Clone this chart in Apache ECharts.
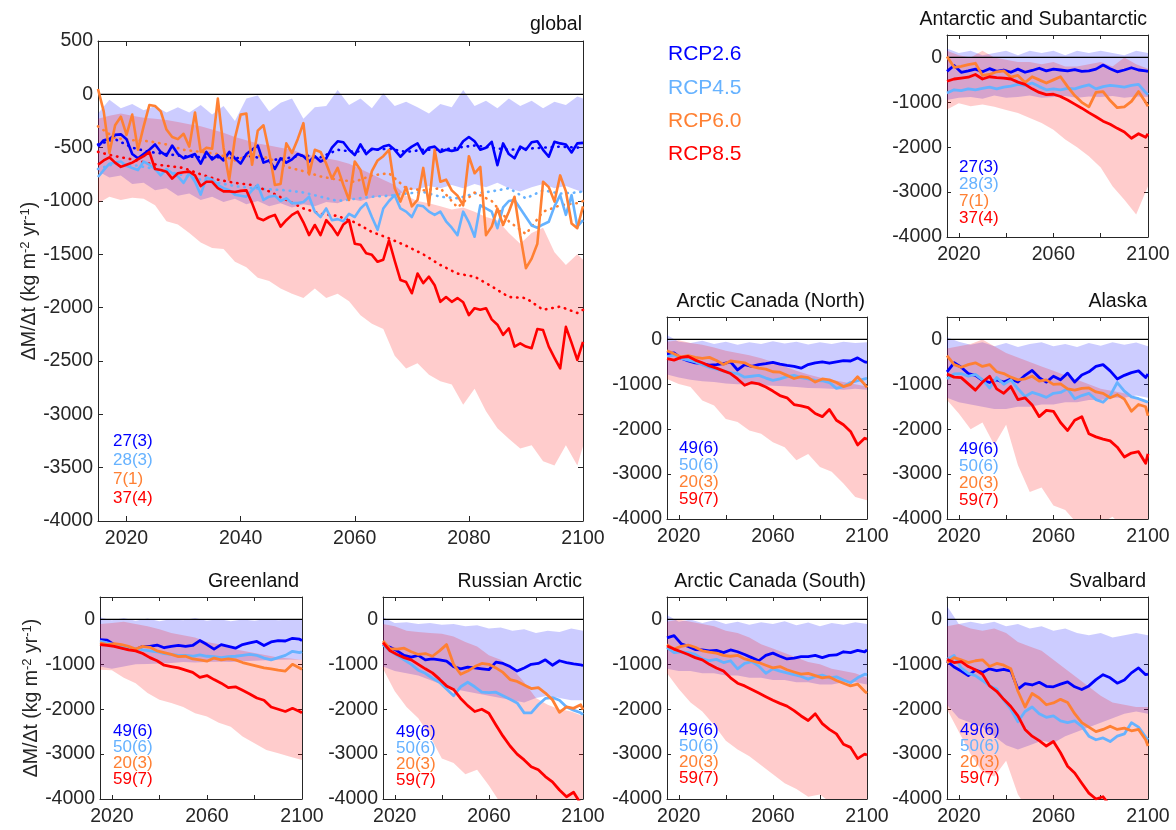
<!DOCTYPE html>
<html><head><meta charset="utf-8">
<script src="https://cdn.jsdelivr.net/npm/echarts@6/dist/echarts.min.js"></script>
<style>html,body{margin:0;padding:0;background:#fff}#c{width:1176px;height:830px}</style>
</head><body><div id="c"></div>
<script>
// ---------------- DATA ----------------
const globalYears = [2015,2016,2017,2018,2019,2020,2021,2022,2023,2024,2025,2026,2027,2028,2029,2030,2031,2032,2033,2034,2035,2036,2037,2038,2039,2040,2041,2042,2043,2044,2045,2046,2047,2048,2049,2050,2051,2052,2053,2054,2055,2056,2057,2058,2059,2060,2061,2062,2063,2064,2065,2066,2067,2068,2069,2070,2071,2072,2073,2074,2075,2076,2077,2078,2079,2080,2081,2082,2083,2084,2085,2086,2087,2088,2089,2090,2091,2092,2093,2094,2095,2096,2097,2098,2099,2100];
const globalBandYears = [2015,2017,2019,2021,2023,2025,2027,2029,2031,2033,2035,2037,2039,2041,2043,2045,2047,2049,2051,2053,2055,2057,2059,2061,2063,2065,2067,2069,2071,2073,2075,2077,2079,2081,2083,2085,2087,2089,2091,2093,2095,2097,2099,2100];
const lineYears = [2015,2018,2021,2024,2027,2030,2033,2036,2039,2042,2045,2048,2051,2054,2057,2060,2063,2066,2069,2072,2075,2078,2081,2084,2087,2090,2093,2096,2099,2100];
const bandYears = [2015,2020,2025,2030,2035,2040,2045,2050,2055,2060,2065,2070,2075,2080,2085,2090,2095,2100];

const scenarios = ['RCP2.6','RCP4.5','RCP6.0','RCP8.5'];
const countsGlobal = ['27(3)','28(3)','7(1)','37(4)'];
const countsRegion = ['49(6)','50(6)','20(3)','59(7)'];
const panelTitles = ['global','Antarctic and Subantarctic','Arctic Canada (North)','Alaska','Greenland','Russian Arctic','Arctic Canada (South)','Svalbard'];
const xTickValues = [2020,2040,2060,2080,2100];
const xLabelGlobal = [2020,2040,2060,2080,2100];
const xLabelRegion = [2020,2060,2100];
const yLabelRegion = [-4000,-3000,-2000,-1000,0];

// global
const g26 = [-490,-430,-420,-380,-375,-420,-560,-600,-560,-520,-470,-540,-575,-480,-560,-600,-580,-560,-650,-540,-610,-570,-620,-540,-600,-650,-560,-520,-480,-640,-620,-700,-600,-640,-610,-560,-580,-630,-580,-630,-600,-500,-440,-450,-520,-570,-470,-560,-510,-520,-490,-475,-520,-585,-530,-490,-460,-555,-500,-490,-540,-520,-530,-520,-440,-400,-440,-520,-500,-445,-665,-460,-560,-600,-490,-520,-450,-440,-520,-585,-445,-460,-470,-545,-460,-455];
const g45 = [-775,-710,-650,-640,-630,-670,-690,-710,-630,-660,-700,-760,-700,-740,-770,-830,-740,-820,-940,-780,-800,-850,-880,-900,-940,-950,-960,-900,-850,-990,-960,-950,-1000,-975,-1020,-1020,-1010,-960,-1100,-1150,-1070,-1180,-1170,-1190,-1120,-1150,-1070,-1020,-1150,-1270,-1070,-1000,-945,-1070,-1100,-1150,-1040,-1050,-1100,-1130,-1100,-1190,-1250,-1320,-1100,-1200,-1335,-1040,-1070,-1100,-1255,-1060,-1000,-990,-1070,-1150,-1230,-1250,-1220,-1195,-1050,-945,-1130,-945,-1240,-1180];
const g60 = [50,-160,-550,-290,-210,-380,-190,-520,-300,-100,-110,-160,-330,-400,-420,-370,-490,-170,-540,-500,-510,-40,-500,-800,-410,-190,-180,-660,-340,-290,-540,-850,-840,-460,-550,-420,-270,-750,-520,-540,-650,-790,-690,-850,-990,-630,-710,-940,-720,-620,-580,-520,-880,-1005,-870,-1050,-990,-690,-1040,-520,-820,-800,-900,-950,-1040,-580,-740,-680,-1320,-1240,-1070,-1225,-1100,-960,-1320,-1630,-1540,-1400,-820,-870,-1005,-760,-910,-1210,-1255,-1050];
const g85 = [-660,-620,-590,-640,-680,-660,-640,-610,-580,-540,-700,-710,-725,-790,-740,-730,-725,-760,-860,-820,-820,-880,-910,-910,-915,-905,-900,-1020,-1160,-1180,-1150,-1130,-1240,-1180,-1130,-1100,-1200,-1320,-1225,-1320,-1180,-1240,-1320,-1220,-1180,-1400,-1410,-1490,-1505,-1570,-1550,-1370,-1560,-1740,-1760,-1865,-1680,-1770,-1710,-1790,-1945,-1900,-1945,-1910,-1950,-2070,-2005,-2020,-2005,-2110,-2160,-2255,-2195,-2365,-2335,-2365,-2380,-2200,-2210,-2365,-2470,-2570,-2180,-2330,-2490,-2320];
const gDot26 = [-470,-420,-500,-540,-560,-580,-590,-590,-600,-580,-620,-600,-570,-590,-520,-540,-520,-510,-540,-520,-520,-500,-480,-500,-520,-510,-500,-490,-500,-490];
const gDot45 = [-700,-650,-660,-690,-720,-760,-800,-830,-860,-880,-890,-900,-920,-960,-1000,-980,-960,-950,-930,-915,-960,-975,-930,-910,-880,-975,-900,-930,-920,-910];
const gDot60 = [-300,-410,-430,-440,-470,-520,-540,-560,-620,-560,-600,-680,-720,-770,-800,-820,-760,-740,-880,-900,-880,-1060,-920,-1000,-1190,-1310,-1100,-1040,-1020,-1000];
const gDot85 = [-540,-580,-610,-650,-670,-690,-750,-800,-830,-850,-910,-990,-1070,-1120,-1140,-1200,-1290,-1350,-1420,-1500,-1600,-1680,-1710,-1800,-1900,-1910,-2020,-1990,-2050,-2020];
const gB26hi = [-180,-50,-130,-90,-150,-110,-170,-120,-170,-100,-190,-110,-250,-40,-10,-160,-80,-40,-230,-120,-110,40,-100,-40,-130,10,-110,-70,-120,-180,-90,-120,40,-110,-60,-130,-40,-110,-60,-130,-70,-100,-20,-40];
const gB26lo = [-720,-780,-760,-840,-830,-900,-880,-950,-930,-990,-960,-1010,-980,-1030,-1000,-1050,-1020,-1060,-1030,-1050,-1010,-1020,-980,-1000,-970,-950,-960,-900,-890,-860,-880,-850,-880,-840,-870,-830,-880,-910,-870,-840,-880,-860,-900,-920];
const gB85hi = [-230,-200,-180,-200,-220,-230,-240,-260,-280,-300,-330,-360,-400,-430,-460,-480,-500,-520,-560,-580,-600,-620,-650,-700,-750,-800,-850,-950,-1000,-1020,-1050,-1080,-1060,-1100,-1150,-1180,-1300,-1400,-1300,-1250,-1480,-1600,-1500,-1550];
const gB85lo = [-1020,-960,-990,-970,-980,-1040,-1190,-1220,-1300,-1390,-1440,-1450,-1570,-1620,-1720,-1750,-1820,-1870,-1910,-1820,-1910,-1870,-1940,-2070,-2150,-2200,-2450,-2570,-2520,-2630,-2690,-2720,-2910,-2760,-2970,-3130,-3230,-3320,-3290,-3440,-3480,-3290,-3480,-3300];

// Antarctic and Subantarctic
const ant26 = [-310,-180,-330,-300,-260,-320,-250,-310,-280,-330,-260,-330,-290,-240,-300,-260,-280,-300,-270,-310,-300,-260,-170,-250,-320,-280,-230,-280,-300,-310];
const ant45 = [-790,-720,-740,-700,-720,-690,-660,-700,-660,-640,-600,-620,-570,-650,-720,-700,-720,-690,-700,-650,-610,-700,-650,-620,-640,-660,-620,-600,-780,-830];
const ant60 = [20,-220,-200,-160,-130,-400,-380,-320,-300,-440,-400,-560,-430,-500,-570,-500,-430,-650,-850,-1000,-1100,-780,-760,-960,-1120,-1100,-980,-760,-1000,-1090];
const ant85 = [-530,-480,-460,-440,-380,-480,-430,-450,-460,-480,-550,-600,-700,-780,-830,-820,-870,-950,-1040,-1130,-1230,-1320,-1420,-1490,-1580,-1660,-1800,-1700,-1780,-1700];
const antB26hi = [200,100,150,50,100,150,50,150,100,150,50,150,100,150,100,50,150,100];
const antB26lo = [-950,-900,-880,-920,-850,-900,-880,-850,-900,-880,-860,-900,-870,-880,-860,-900,-870,-880];
const antB85hi = [150,50,0,150,0,-50,-100,-100,-150,-100,-200,-200,-150,-100,-200,0,-150,-250];
const antB85lo = [-1160,-1020,-1090,-1050,-1100,-1170,-1240,-1350,-1460,-1610,-1830,-2000,-2200,-2450,-2870,-3170,-3500,-2870];

// Arctic Canada (North)
const acn26 = [-320,-300,-420,-480,-520,-540,-570,-560,-540,-500,-680,-560,-600,-560,-540,-510,-550,-580,-600,-640,-560,-520,-500,-530,-500,-470,-480,-410,-500,-510];
const acn45 = [-380,-350,-420,-460,-500,-560,-620,-660,-700,-740,-760,-840,-820,-800,-860,-910,-880,-830,-800,-850,-880,-910,-920,-960,-1090,-1050,-960,-920,-880,-870];
const acn60 = [-250,-320,-390,-360,-400,-420,-400,-470,-560,-480,-500,-520,-600,-640,-660,-720,-730,-800,-870,-830,-850,-950,-880,-900,-960,-1050,-1000,-830,-1000,-1070];
const acn85 = [-430,-460,-400,-380,-460,-520,-590,-640,-700,-760,-880,-1020,-960,-990,-1060,-1150,-1250,-1300,-1450,-1480,-1520,-1650,-1720,-1560,-1800,-1900,-2050,-2350,-2200,-2220];
const acnB26hi = [100,-50,-80,-30,-100,-50,-120,-60,-100,-40,-90,-50,-110,-60,-100,-50,-80,-60];
const acnB26lo = [-780,-850,-900,-930,-950,-980,-1000,-1000,-1020,-1030,-1040,-1060,-1080,-1090,-1100,-1120,-1100,-1120];
const acnB85hi = [-50,-20,-80,-120,-180,-250,-300,-350,-420,-500,-600,-700,-780,-850,-900,-950,-1000,-1050];
const acnB85lo = [-880,-990,-1060,-1360,-1470,-1770,-1840,-2030,-2100,-2290,-2400,-2690,-2550,-2840,-2950,-3210,-3510,-3580];

// Alaska
const ala26 = [-720,-520,-620,-760,-800,-910,-960,-900,-950,-880,-950,-800,-690,-850,-950,-820,-900,-750,-950,-790,-720,-600,-560,-700,-880,-800,-740,-700,-850,-770];
const ala45 = [-880,-770,-760,-820,-780,-900,-1080,-850,-1000,-900,-1100,-1270,-1180,-1230,-1290,-1200,-1180,-1100,-1320,-1250,-1200,-1340,-1400,-1250,-960,-1150,-1280,-1320,-1380,-1400];
const ala60 = [-360,-560,-620,-560,-520,-600,-560,-720,-760,-840,-900,-880,-820,-930,-900,-1000,-990,-1100,-1130,-1090,-1080,-1170,-1200,-1300,-1230,-1330,-1600,-1450,-1500,-1700];
const ala85 = [-770,-840,-850,-990,-1130,-950,-820,-1100,-1200,-1050,-1340,-1300,-1460,-1720,-1580,-1600,-1850,-2030,-1800,-1720,-2100,-2170,-2220,-2260,-2400,-2620,-2530,-2500,-2760,-2550];
const alaB26hi = [50,-50,-120,-60,-150,-80,-170,-100,-60,-150,-100,-170,-80,-140,-60,-120,-70,-150];
const alaB26lo = [-1300,-1400,-1450,-1500,-1550,-1550,-1500,-1500,-1450,-1450,-1400,-1400,-1350,-1350,-1300,-1300,-1250,-1300];
const alaB85hi = [-200,-150,-100,0,-150,-300,-400,-500,-600,-700,-800,-900,-1000,-1100,-1150,-1200,-1300,-1400];
const alaB85lo = [-1350,-1650,-2000,-1850,-2350,-1900,-2800,-3400,-3300,-3700,-3800,-4100,-4200,-4100,-3950,-4200,-4300,-4300];

// Greenland
const grl26 = [-450,-460,-560,-630,-660,-670,-600,-600,-570,-630,-600,-580,-600,-580,-470,-560,-660,-560,-600,-640,-560,-520,-490,-580,-500,-470,-480,-420,-440,-470];
const grl45 = [-480,-520,-560,-600,-620,-650,-680,-700,-720,-760,-780,-800,-800,-820,-790,-820,-830,-850,-830,-820,-800,-780,-800,-860,-900,-850,-800,-710,-740,-720];
const grl60 = [-520,-560,-540,-560,-600,-660,-600,-620,-700,-740,-780,-830,-820,-880,-900,-930,-860,-900,-880,-900,-960,-1000,-1040,-1080,-1100,-1130,-1150,-1000,-1080,-1110];
const grl85 = [-560,-580,-600,-640,-680,-700,-760,-850,-920,-1020,-1050,-1080,-1130,-1180,-1290,-1250,-1340,-1420,-1520,-1500,-1580,-1660,-1750,-1800,-1950,-2000,-2050,-1980,-2050,-2080];
const grlB26hi = [50,-20,30,-30,20,-40,10,-20,30,-30,10,-40,0,-30,10,-20,0,-10];
const grlB26lo = [-1050,-1100,-1050,-1000,-990,-980,-970,-950,-960,-950,-940,-950,-930,-920,-910,-900,-890,-900];
const grlB85hi = [-100,-80,-50,-100,-150,-220,-300,-350,-400,-500,-550,-650,-700,-750,-800,-850,-870,-900];
const grlB85lo = [-1120,-1130,-1300,-1420,-1640,-1790,-1860,-1950,-2090,-2160,-2300,-2390,-2610,-2760,-2910,-2980,-3060,-3130];

// Russian Arctic
const rus26 = [-560,-620,-700,-800,-840,-800,-900,-880,-900,-930,-1050,-1100,-1060,-1080,-1100,-1120,-950,-980,-1050,-1150,-1080,-1000,-980,-900,-1020,-920,-960,-990,-1010,-1030];
const rus45 = [-560,-700,-800,-900,-1000,-1130,-1200,-1310,-1400,-1550,-1700,-1500,-1400,-1500,-1620,-1630,-1620,-1700,-1780,-1860,-2080,-2080,-1900,-1760,-1740,-1800,-1950,-2020,-2080,-2120];
const rus60 = [-480,-650,-660,-640,-720,-780,-760,-820,-700,-560,-1000,-1220,-1150,-1050,-980,-1000,-1080,-1180,-1340,-1380,-1460,-1540,-1520,-1640,-1790,-2070,-1950,-1980,-1900,-2010];
const rus85 = [-520,-700,-780,-850,-900,-1000,-1100,-1190,-1330,-1480,-1560,-1760,-1920,-2050,-2000,-2090,-2350,-2600,-2820,-3000,-3130,-3280,-3350,-3500,-3620,-3800,-3950,-3850,-4100,-4150];
const rusB26hi = [50,-80,-60,-100,-80,-120,-100,-150,-130,-200,-180,-250,-220,-300,-250,-280,-200,-250];
const rusB26lo = [-1050,-1150,-1200,-1250,-1350,-1450,-1550,-1600,-1650,-1700,-1750,-1800,-1850,-1750,-1700,-1750,-1800,-1800];
const rusB85hi = [-100,-150,-250,-280,-300,-320,-380,-500,-600,-800,-900,-1100,-1400,-1750,-1900,-2000,-2050,-2150];
const rusB85lo = [-1100,-1600,-1950,-2200,-2600,-3100,-3200,-3450,-3350,-3700,-4100,-4300,-4400,-4500,-4600,-4700,-4800,-4900];

// Arctic Canada (South)
const acs26 = [-410,-360,-540,-600,-670,-680,-700,-690,-740,-680,-720,-780,-850,-920,-800,-750,-820,-880,-860,-830,-830,-800,-850,-800,-790,-720,-740,-690,-720,-680];
const acs45 = [-630,-740,-720,-740,-780,-880,-920,-890,-960,-920,-1100,-980,-940,-1040,-1200,-1100,-1150,-1190,-1230,-1270,-1330,-1270,-1240,-1300,-1280,-1350,-1410,-1300,-1220,-1230];
const acs60 = [-560,-660,-600,-570,-620,-700,-730,-750,-800,-820,-800,-880,-920,-960,-1020,-1080,-1050,-1120,-1170,-1220,-1200,-1250,-1300,-1280,-1360,-1420,-1480,-1440,-1600,-1640];
const acs85 = [-590,-660,-720,-780,-850,-900,-1000,-1080,-1150,-1300,-1420,-1480,-1560,-1640,-1720,-1800,-1870,-1930,-2030,-2150,-2250,-2100,-2320,-2450,-2550,-2780,-2850,-3100,-3000,-3020];
const acsB26hi = [100,-50,0,-80,-20,-100,-50,-120,-60,-100,-40,-130,-70,-150,-80,-120,-60,-100];
const acsB26lo = [-1100,-1150,-1150,-1200,-1200,-1250,-1250,-1300,-1300,-1350,-1350,-1400,-1400,-1450,-1450,-1400,-1400,-1450];
const acsB85hi = [-50,0,-50,-100,-150,-250,-300,-400,-550,-650,-750,-850,-950,-1000,-1100,-1150,-1200,-1300];
const acsB85lo = [-1200,-1550,-1850,-2050,-2350,-2700,-2900,-3050,-3250,-3450,-3650,-3780,-3950,-3900,-4100,-4200,-4300,-4400];

// Svalbard
const sva26 = [-930,-1060,-1150,-1250,-1130,-1180,-1100,-1140,-1110,-1150,-1550,-1430,-1460,-1400,-1490,-1500,-1440,-1390,-1500,-1560,-1480,-1340,-1230,-1300,-1420,-1350,-1190,-1080,-1230,-1220];
const sva45 = [-890,-800,-1080,-1200,-1250,-1360,-1480,-1550,-1800,-2000,-2280,-2050,-1950,-2100,-2180,-2150,-2260,-2300,-2260,-2380,-2600,-2680,-2640,-2720,-2600,-2550,-2300,-2400,-2620,-2680];
const sva60 = [-970,-850,-900,-960,-920,-900,-1050,-980,-1020,-1100,-1600,-1950,-1650,-1750,-1900,-1860,-1780,-1850,-2100,-2300,-2400,-2500,-2450,-2380,-2450,-2420,-2480,-2450,-2680,-2820];
const sva85 = [-890,-960,-940,-1050,-1120,-1220,-1480,-1600,-1780,-1940,-2150,-2450,-2600,-2700,-2820,-2720,-2970,-3270,-3420,-3650,-3870,-4000,-3950,-4150,-4250,-4350,-4450,-4500,-4600,-4650];
const svaB26hi = [300,-100,-50,-100,-50,-150,-100,-200,-150,-250,-200,-300,-350,-300,-400,-350,-300,-350];
const svaB26lo = [-1900,-2200,-2300,-2400,-2600,-2800,-2900,-2800,-2700,-2750,-2600,-2500,-2400,-2300,-2200,-2100,-2050,-2100];
const svaB85hi = [-150,-100,-200,-250,-200,-300,-500,-600,-700,-900,-1100,-1300,-1500,-1700,-1850,-1900,-1950,-1950];
const svaB85lo = [-2000,-2500,-3000,-3400,-3500,-3150,-3900,-4300,-4400,-4500,-4500,-4500,-4500,-4500,-4500,-4500,-4500,-4500];

// ---------------- LAYOUT / STYLE ----------------
const FF = '"Liberation Sans", Arial, Helvetica, sans-serif';
const AX = '#262626';
const COL = ['#0000ff', '#66b2ff', '#ff8033', '#ff0000'];
const BAND_COL = ['rgba(0,0,255,0.2)', 'rgba(255,0,0,0.2)'];

const panels = [
  {box:[98,41,485,480], big:true, years:globalYears, lines:[g26,g45,g60,g85], dotYears:lineYears, dots:[gDot26,gDot45,gDot60,gDot85], bYears:globalBandYears, bands:[[gB26lo,gB26hi],[gB85lo,gB85hi]], counts:countsGlobal, cx:113, cy:441, cdy:19, tx:582, ty:25, ylabel:true, nameGap:48},
  {box:[947,35,201,202], years:lineYears, lines:[ant26,ant45,ant60,ant85], bYears:bandYears, bands:[[antB26lo,antB26hi],[antB85lo,antB85hi]], counts:countsGlobal, cx:959, cy:167, cdy:17.2, tx:1147, ty:20},
  {box:[667,317,200,202], years:lineYears, lines:[acn26,acn45,acn60,acn85], bYears:bandYears, bands:[[acnB26lo,acnB26hi],[acnB85lo,acnB85hi]], counts:countsRegion, cx:679, cy:448, cdy:17, tx:865, ty:302},
  {box:[947,317,201,202], years:lineYears, lines:[ala26,ala45,ala60,ala85], bYears:bandYears, bands:[[alaB26lo,alaB26hi],[alaB85lo,alaB85hi]], counts:countsRegion, cx:959, cy:449, cdy:17, tx:1147, ty:302},
  {box:[100,597,202,202], years:lineYears, lines:[grl26,grl45,grl60,grl85], bYears:bandYears, bands:[[grlB26lo,grlB26hi],[grlB85lo,grlB85hi]], counts:countsRegion, cx:113, cy:731, cdy:16, tx:299, ty:582, ylabel:true, nameGap:52},
  {box:[383,597,200,202], years:lineYears, lines:[rus26,rus45,rus60,rus85], bYears:bandYears, bands:[[rusB26lo,rusB26hi],[rusB85lo,rusB85hi]], counts:countsRegion, cx:396, cy:732, cdy:16, tx:582, ty:582},
  {box:[667,597,200,202], years:lineYears, lines:[acs26,acs45,acs60,acs85], bYears:bandYears, bands:[[acsB26lo,acsB26hi],[acsB85lo,acsB85hi]], counts:countsRegion, cx:679, cy:730, cdy:16, tx:866, ty:582},
  {box:[947,597,201,202], years:lineYears, lines:[sva26,sva45,sva60,sva85], bYears:bandYears, bands:[[svaB26lo,svaB26hi],[svaB85lo,svaB85hi]], counts:countsRegion, cx:960, cy:730, cdy:16, tx:1146, ty:582}
];

const grids = [], xAxes = [], yAxes = [], series = [], graphics = [];
const pair = (xs, vs) => xs.map((x, k) => [x, vs[k]]);
const plain = v => String(v);

function bandSeries(xi, yi, xs, lo, hi, color) {
  return {
    type:'custom', coordinateSystem:'cartesian2d', xAxisIndex:xi, yAxisIndex:yi, silent:true, z:1, clip:true,
    data: xs.map((x, k) => [x, lo[k], hi[k]]),
    encode:{x:0, y:[1, 2]},
    renderItem: function (params, api) {
      if (params.dataIndex !== 0) return null;
      const pts = [];
      for (let k = 0; k < xs.length; k++) pts.push(api.coord([xs[k], hi[k]]));
      for (let k = xs.length - 1; k >= 0; k--) pts.push(api.coord([xs[k], lo[k]]));
      const cs = params.coordSys;
      return {type:'polygon', shape:{points:pts}, style:{fill:color, stroke:null}, silent:true,
        clipPath:{type:'rect', shape:{x:cs.x, y:cs.y, width:cs.width, height:cs.height}}};
    }
  };
}

panels.forEach((p, i) => {
  const big = !!p.big;
  const tickLen = big ? 5 : 4;
  grids.push({left:p.box[0], top:p.box[1], width:p.box[2], height:p.box[3], containLabel:false});
  const xi = xAxes.length, yi = yAxes.length;
  const xBase = {type:'value', gridIndex:i, min:2015, max:2100, splitLine:{show:false},
    axisLine:{show:true, onZero:false, lineStyle:{color:AX, width:1}},
    axisTick:{show:true, inside:true, length:tickLen, customValues:xTickValues, lineStyle:{color:AX, width:1}}};
  xAxes.push(Object.assign({}, xBase, {position:'bottom',
    axisLabel:{show:true, customValues: big ? xLabelGlobal : xLabelRegion, formatter:plain, color:AX, fontSize:19.5, fontFamily:FF, margin:8}}));
  xAxes.push(Object.assign({}, xBase, {position:'top', axisLabel:{show:false}}));
  const yBase = {type:'value', gridIndex:i, min:-4000, max:500, splitLine:{show:false},
    axisLine:{show:true, onZero:false, lineStyle:{color:AX, width:1}}};
  const yTick = big ? {show:true, inside:true, length:tickLen, lineStyle:{color:AX}}
                    : {show:true, inside:true, length:tickLen, customValues:yLabelRegion, lineStyle:{color:AX}};
  const yLeft = Object.assign({}, yBase, {position:'left', axisTick:yTick,
    axisLabel: big ? {show:true, formatter:plain, color:AX, fontSize:19.5, fontFamily:FF, margin:5}
                   : {show:true, customValues:yLabelRegion, formatter:plain, color:AX, fontSize:19.5, fontFamily:FF, margin:5}});
  if (big) yLeft.interval = 500;
  if (p.ylabel) {
    yLeft.name = '{a|ΔM/Δt (kg m}{s|-2}{a| yr}{s|-1}{a|)}';
    yLeft.nameLocation = 'middle';
    yLeft.nameRotate = 90;
    yLeft.nameGap = p.nameGap;
    yLeft.nameTextStyle = {rich:{
      a:{fontSize:19.5, fontFamily:FF, color:AX},
      s:{fontSize:13, fontFamily:FF, color:AX, verticalAlign:'top'}}};
  }
  yAxes.push(yLeft);
  const yRight = Object.assign({}, yBase, {position:'right', axisTick:yTick, axisLabel:{show:false}});
  if (big) yRight.interval = 500;
  yAxes.push(yRight);

  // uncertainty bands (RCP2.6 and RCP8.5)
  p.bands.forEach(([lo, hi], j) => {
    series.push(bandSeries(xi, yi, p.bYears, lo, hi, BAND_COL[j]));
  });
  // zero line
  series.push({type:'line', xAxisIndex:xi, yAxisIndex:yi, symbol:'none', silent:true, z:2,
    emphasis:{disabled:true}, lineStyle:{color:'#000', width:1.2}, data:[[2015, 0], [2100, 0]]});

  // dotted lines (global only)
  if (p.dots) {
    p.dots.forEach((d, j) => {
      series.push({type:'line', name:scenarios[j] + ' mean', xAxisIndex:xi, yAxisIndex:yi, symbol:'none', silent:true,
        emphasis:{disabled:true}, lineStyle:{color:COL[j], width:2.6, type:[0.5, 6], cap:'round'}, data:pair(p.dotYears, d), z:3});
    });
  }
  // solid lines
  p.lines.forEach((d, j) => {
    series.push({type:'line', name:scenarios[j], xAxisIndex:xi, yAxisIndex:yi, symbol:'none', silent:true,
      emphasis:{disabled:true}, lineStyle:{color:COL[j], width: big ? 2.6 : 2.8, join:'round'}, data:pair(p.years, d), z:4});
  });

  // title
  graphics.push({type:'text', x:p.tx, y:p.ty, silent:true, style:{text:panelTitles[i], fill:'#111',
    font:'19.5px ' + FF, align:'right', verticalAlign:'middle', textAlign:'right', textVerticalAlign:'middle'}});
  // counts
  p.counts.forEach((c, j) => {
    graphics.push({type:'text', x:p.cx, y:p.cy + j * p.cdy, silent:true, z:10, style:{text:c, fill:COL[j],
      font:'17px ' + FF, align:'left', verticalAlign:'middle', textAlign:'left', textVerticalAlign:'middle'}});
  });
});

// scenario legend
const legendY = [54, 88, 121, 154];
scenarios.forEach((s, j) => {
  graphics.push({type:'text', x:668, y:legendY[j], silent:true, style:{text:s, fill:COL[j],
    font:'21px ' + FF, align:'left', verticalAlign:'middle', textAlign:'left', textVerticalAlign:'middle'}});
});

const chart = echarts.init(document.getElementById('c'), null, {renderer:'canvas'});
chart.setOption({
  animation:false,
  backgroundColor:'#fff',
  textStyle:{fontFamily:FF},
  grid:grids, xAxis:xAxes, yAxis:yAxes, series:series, graphic:graphics
});
</script>
</body></html>
